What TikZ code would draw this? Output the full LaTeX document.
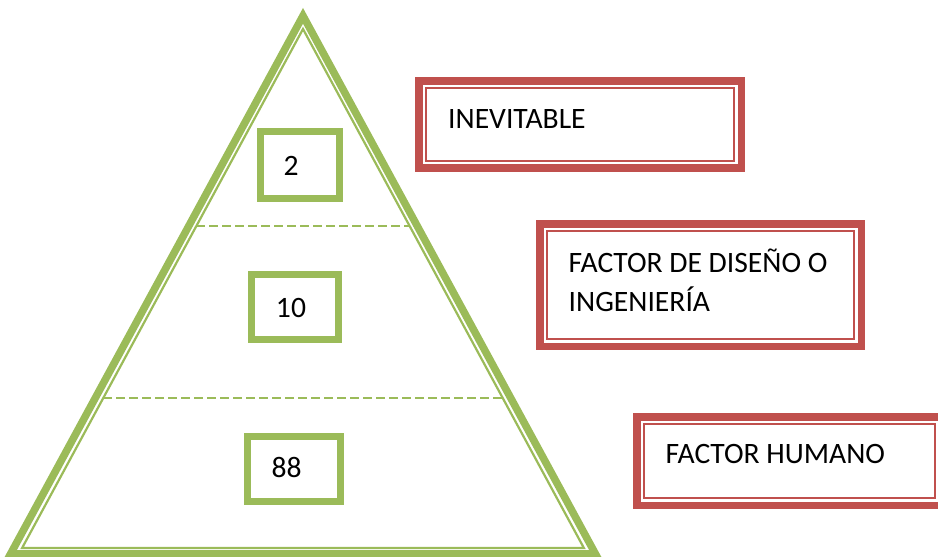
\documentclass[tikz,border=0pt]{standalone}
\usepackage{fontspec}
\setmainfont{Carlito}
\definecolor{accred}{HTML}{C0504D}
\definecolor{accgreen}{HTML}{9BBB59}
\begin{document}
\begin{tikzpicture}[x=1pt,y=-1pt,
  thickred/.style={draw=accred,line width=7.5pt,fill=white,inner sep=0pt,outer sep=0pt},
  thinred/.style={draw=accred,line width=2.3pt},
  gbox/.style={draw=accgreen,line width=7pt,fill=white,inner sep=0pt,outer sep=0pt},
  trithick/.style={draw=accgreen,line width=7.5pt,line join=miter},
  trithin/.style={draw=accgreen,line width=2.2pt,line join=miter},
  sep/.style={draw=accgreen,line width=2.8pt,dash pattern=on 8.5pt off 4.5pt},
  lab/.style={inner sep=0pt,anchor=base west,font=\fontsize{29.6}{39}\selectfont},
  num/.style={inner sep=0pt,anchor=base,font=\fontsize{29.6}{39}\selectfont}]
\useasboundingbox (0,0) rectangle (938,557);
% pyramid
\draw[trithick] (303,15.8) -- (10.6,553.8) -- (595.4,553.8) -- cycle;
\draw[trithin] (303,29) -- (22.1,548) -- (583.9,548) -- cycle;
\coordinate (s1l) at (196.4,226);
\coordinate (s1r) at (409.6,226);
\coordinate (s2l) at (103.4,398);
\coordinate (s2r) at (502.6,398);
\draw[sep] (s1l) -- (s1r);
\draw[sep] (s2l) -- (s2r);
% green boxes
\node[gbox,minimum width=79.3pt,minimum height=66.7pt] (g1) at (299.85,164.85) {};
\node[gbox,minimum width=87pt,minimum height=65pt] (g2) at (295,307) {};
\node[gbox,minimum width=93pt,minimum height=65.3pt] (g3) at (294,468.85) {};
\node[num] (n1) at (291.2,175) {2};
\node[num] (n2) at (291,317) {10};
\node[num] (n3) at (286.7,477.3) {88};
% red boxes
\node[thickred,minimum width=322.5pt,minimum height=86.9pt] (r1) at (580,124.5) {};
\node[thickred,minimum width=321.5pt,minimum height=122.5pt] (r2) at (700.5,285) {};
\node[thickred,minimum width=305.5pt,minimum height=88.5pt] (r3) at (789.5,461) {};
\draw[thinred] ([shift={(7.2,7.2)}]r1.north west) rectangle ([shift={(-7.2,-7.2)}]r1.south east);
\draw[thinred] ([shift={(7.2,7.2)}]r2.north west) rectangle ([shift={(-7.2,-7.2)}]r2.south east);
\draw[thinred] ([shift={(7.2,7.2)}]r3.north west) rectangle ([shift={(-7.2,-7.2)}]r3.south east);
\node[lab] (t1) at (448,128.3) {INEVITABLE};
\node[lab] (t2a) at (568.5,272.3) {FACTOR DE DISEÑO O};
\node[lab] (t2b) at (568.5,311.7) {INGENIERÍA};
\node[lab] (t3) at (665.5,463.3) {FACTOR HUMANO};
\end{tikzpicture}
\end{document}
